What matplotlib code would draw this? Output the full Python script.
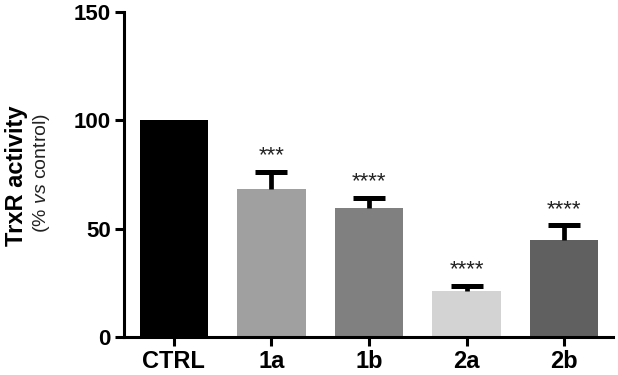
import matplotlib
matplotlib.use("Agg")
import matplotlib.pyplot as plt

categories = ["CTRL", "1a", "1b", "2a", "2b"]
values = [100, 68.5, 59.7, 21.2, 45.0]
errors = [0, 7.8, 4.5, 2.3, 6.5]
stars = ["", "***", "****", "****", "****"]
colors = ["#000000", "#a0a0a0", "#808080", "#d3d3d3", "#606060"]
yticks = [0, 50, 100, 150]

plt.rcParams['font.family'] = ['Liberation Sans', 'DejaVu Sans']
plt.rcParams['mathtext.fontset'] = 'custom'
plt.rcParams['mathtext.it'] = 'Liberation Sans:italic'
plt.rcParams['mathtext.rm'] = 'Liberation Sans'

fig = plt.figure(figsize=(6.18, 3.75), dpi=100)
ax = fig.add_axes([0.2006, 0.1013, 0.7914, 0.8667])

x = list(range(len(categories)))
ax.bar(x, values, width=0.7, color=colors, zorder=2)
for xi, v, e, s in zip(x, values, errors, stars):
    if e > 0:
        ax.vlines(xi, v, v + e, colors='black', linewidth=3.4, zorder=3)
        ax.plot([xi], [v + e], marker='_', markersize=23, mew=3.6, color='black', zorder=3)
    if s:
        ax.annotate(s, (xi, v + e), xytext=(0, 4), textcoords='offset points',
                    ha='center', va='bottom', fontsize=16, color='#222222')

ax.set_xlim(-0.51, 4.5)
ax.set_ylim(0, 150)
ax.set_yticks(yticks)
ax.set_xticks(x)
ax.set_xticklabels(categories)
for sp in ['top', 'right']:
    ax.spines[sp].set_visible(False)
for sp in ['left', 'bottom']:
    ax.spines[sp].set_linewidth(2.2)
ax.tick_params(axis='both', width=2.2, length=6.5, pad=3)
ax.tick_params(axis='y', labelsize=16)
ax.tick_params(axis='x', labelsize=17)
for lab in ax.get_xticklabels() + ax.get_yticklabels():
    lab.set_fontweight('bold')

fig.text(17/618, 1 - 176/375, "TrxR activity", rotation=90, ha='center', va='center',
         fontsize=17, fontweight='bold')
fig.text(41/618, 1 - 173/375, r"(% $\mathit{vs}$ control)", rotation=90, ha='center', va='center',
         fontsize=14, color='#222222')

fig.savefig("out.png", dpi=100)
